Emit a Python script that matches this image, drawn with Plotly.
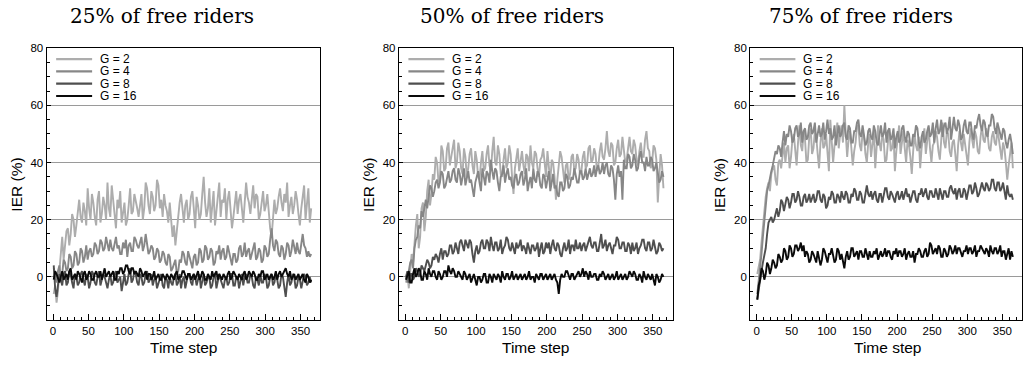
import plotly.graph_objects as go

# ---------------- data (IER %, sampled every 2 time steps, starting at t=1) ----------------
T_START = 1
T_STEP = 2
group_labels = ["G = 2", "G = 4", "G = 8", "G = 16"]
panel_titles = ["25% of free riders", "50% of free riders", "75% of free riders"]

fr25_g2 = [-6, -3, -9, -5, 2, 9, 14, 6, 12, 16, 17, 11, 15, 22, 20, 14, 18, 24, 27, 21,
           19, 26, 23, 18, 31, 24, 20, 29, 26, 21, 18, 27, 30, 19, 22, 28, 25, 20, 33, 24,
           21, 32, 28, 22, 17, 27, 24, 30, 19, 23, 26, 18, 20, 25, 31, 22, 23, 29, 27, 24,
           21, 26, 29, 20, 24, 33, 31, 25, 22, 30, 28, 23, 25, 34, 32, 24, 27, 21, 29, 25,
           23, 19, 26, 20, 14, 18, 11, 16, 22, 26, 29, 23, 19, 25, 27, 20, 22, 28, 30, 24,
           17, 28, 25, 20, 22, 29, 35, 26, 21, 24, 31, 19, 24, 30, 18, 23, 28, 33, 21, 27,
           26, 31, 20, 27, 30, 23, 17, 21, 25, 30, 22, 27, 29, 24, 19, 26, 33, 28, 26, 22,
           27, 32, 24, 29, 28, 20, 22, 27, 30, 23, 25, 29, 21, 17, 14, 20, 27, 22, 24, 28,
           31, 26, 23, 29, 26, 33, 21, 25, 28, 22, 25, 30, 27, 22, 18, 24, 29, 32, 20, 26,
           31, 19, 24]
fr25_g4 = [3, 0, -2, 2, 4, -1, 1, 6, 5, 2, 3, 8, 7, 3, 4, 9, 8, 4, 5, 10,
           9, 5, 7, 11, 6, 9, 10, 7, 8, 12, 11, 8, 9, 13, 12, 9, 10, 14, 11, 9,
           13, 10, 9, 12, 14, 10, 11, 8, 8, 12, 10, 13, 7, 11, 12, 9, 9, 14, 13, 11,
           10, 12, 14, 9, 11, 15, 12, 8, 9, 11, 10, 6, 7, 10, 9, 5, 6, 9, 8, 5,
           4, 8, 7, 2, 3, 5, 6, 1, 2, 6, 5, 9, 8, 5, 4, 9, 7, 4, 3, 7,
           8, 4, 5, 10, 9, 5, 6, 11, 10, 6, 7, 10, 9, 4, 5, 9, 8, 11, 6, 9,
           10, 6, 7, 11, 9, 6, 4, 8, 8, 5, 6, 10, 11, 7, 8, 12, 7, 9, 10, 6,
           8, 11, 12, 6, 7, 10, 9, 5, 6, 11, 10, 7, 8, 13, 17, 11, 9, 13, 12, 8,
           7, 11, 10, 6, 8, 12, 11, 7, 9, 13, 10, 8, 12, 9, 8, 12, 15, 11, 10, 7,
           9, 7, 8]
fr25_g8 = [4, -4, -7, -2, 1, -1, -3, 1, 2, -3, -2, 2, 1, -2, -4, 1, 0, -3, -2, 1,
           2, -1, -3, 1, 0, -4, -2, 2, 1, -2, -3, 0, 2, -3, -1, 1, 0, -2, -4, -1,
           1, -3, -2, 1, 2, -2, -1, 0, -5, -1, 1, -3, -2, 1, 3, -2, -1, 2, 1, -2,
           -3, 1, 0, -3, -2, 1, 2, -2, -1, 1, -3, -1, 0, -4, -2, 0, 1, -3, -4, 0,
           -1, -4, 0, -2, -3, 0, 1, -3, -2, 1, -4, -1, 0, -4, -2, 1, 1, -2, -3, 1,
           0, -3, -1, 1, -4, -1, 1, -3, -2, 0, 0, -4, -3, 0, 1, -4, -2, 1, -1, -3,
           -4, -1, 0, -3, -2, 1, 1, -3, -3, 0, 0, -4, -1, 1, -3, 0, 1, -2, -2, 1,
           0, -3, -4, 0, -1, -3, 1, -2, -2, 1, 0, -4, -3, 0, 1, -3, -2, 1, -1, -4,
           -3, 1, 0, -3, -7, -2, 1, -3, -2, 1, 0, -4, -3, 0, -1, -4, -2, 1, 0, -3,
           -2, 0, -2]
fr25_g16 = [-1, 2, 1, -1, -2, 0, 2, -1, 0, 1, -1, 2, 3, -1, 0, 1, -1, 2, 1, -1,
            -2, 1, 2, -1, 0, 2, 1, -1, -1, 1, 2, 0, 0, 2, -1, 1, 3, 0, 1, 2,
            0, 1, 2, -1, -1, 2, 1, 3, 3, 1, 2, 4, 4, 2, 1, 3, 3, 1, 2, 1,
            0, 3, 2, 0, 1, 2, -1, 1, 1, -1, 0, 2, -1, 0, 1, -1, -1, 1, 0, -1,
            1, 0, -1, 1, 0, -1, 1, 2, -1, 0, 0, 2, 2, 0, -1, 1, 1, -1, 0, 1,
            -1, 1, 2, -1, 0, 2, 1, -1, -1, 1, 0, -1, 2, 0, 1, 2, -1, 1, 0, -1,
            1, 0, -1, 1, 2, -1, 0, 2, 1, 0, -1, 1, 0, -1, 1, 2, -1, 0, 2, 1,
            0, 2, 1, -1, -1, 1, 0, 2, 2, -1, 0, 1, -1, 0, 1, -1, 0, 2, -1, 1,
            2, 0, 1, 2, 3, 1, 0, 2, -1, 0, 1, -1, 0, 1, -1, 0, 1, -1, -2, 1,
            0, -2, -1]

fr50_g2 = [-2, 1, -4, 4, 8, 5, 12, 18, 22, 10, 14, 24, 26, 16, 21, 30, 34, 25, 29, 36,
           34, 42, 40, 33, 35, 46, 44, 37, 38, 45, 47, 39, 42, 46, 48, 38, 40, 47, 44, 38,
           36, 45, 42, 35, 38, 43, 45, 39, 36, 44, 41, 35, 34, 40, 44, 37, 38, 43, 46, 39,
           37, 44, 49, 40, 39, 46, 43, 36, 35, 41, 45, 38, 40, 46, 43, 35, 29, 38, 41, 45,
           37, 41, 44, 39, 36, 43, 42, 37, 46, 40, 38, 44, 43, 38, 35, 41, 42, 45, 39, 35,
           44, 38, 33, 41, 40, 35, 27, 34, 38, 44, 42, 36, 33, 39, 40, 34, 36, 42, 43, 37,
           38, 43, 41, 36, 37, 42, 44, 38, 39, 45, 46, 40, 41, 45, 43, 37, 39, 44, 47, 42,
           41, 45, 51, 44, 42, 47, 46, 39, 40, 45, 48, 42, 43, 49, 45, 40, 41, 46, 49, 44,
           43, 48, 46, 41, 39, 44, 47, 42, 42, 48, 51, 45, 44, 38, 40, 46, 45, 41, 26, 35,
           43, 39, 31]
fr50_g4 = [0, -2, 2, 5, 6, 3, 10, 13, 14, 18, 17, 23, 21, 25, 27, 24, 29, 32, 31, 28,
           30, 33, 34, 31, 33, 37, 36, 31, 32, 35, 37, 33, 34, 37, 38, 34, 33, 38, 36, 32,
           35, 38, 32, 35, 37, 33, 34, 31, 28, 33, 35, 37, 33, 30, 38, 34, 32, 37, 36, 33,
           41, 37, 34, 38, 37, 33, 30, 35, 36, 39, 33, 36, 38, 34, 35, 32, 31, 35, 36, 32,
           33, 36, 37, 32, 34, 38, 30, 33, 35, 31, 38, 34, 33, 37, 36, 32, 31, 36, 35, 31,
           34, 37, 30, 33, 36, 31, 32, 29, 28, 33, 33, 30, 31, 36, 35, 31, 32, 35, 34, 38,
           36, 33, 33, 37, 37, 34, 35, 38, 34, 36, 38, 35, 36, 39, 35, 38, 39, 36, 37, 40,
           36, 39, 40, 36, 35, 39, 38, 34, 27, 36, 39, 35, 37, 27, 41, 38, 38, 43, 42, 38,
           39, 43, 41, 37, 38, 42, 44, 40, 40, 37, 42, 39, 39, 42, 41, 37, 38, 40, 36, 33,
           34, 37, 35]
fr50_g8 = [0, 2, -2, 1, 1, -1, 0, 3, 2, 0, 1, 4, 3, 2, 4, 6, 5, 3, 4, 7,
           6, 8, 7, 5, 8, 10, 6, 9, 9, 7, 8, 11, 11, 8, 9, 12, 10, 8, 12, 13,
           11, 9, 13, 11, 10, 13, 12, 8, 5, 9, 11, 8, 9, 12, 13, 10, 10, 13, 12, 9,
           14, 11, 9, 12, 12, 9, 10, 13, 8, 10, 11, 14, 13, 10, 9, 12, 10, 8, 12, 10,
           11, 13, 9, 11, 10, 8, 12, 10, 8, 11, 11, 9, 10, 12, 7, 10, 12, 8, 9, 12,
           10, 12, 8, 11, 13, 10, 9, 12, 11, 8, 7, 10, 12, 9, 10, 13, 8, 11, 11, 9,
           13, 10, 10, 12, 9, 11, 12, 9, 11, 13, 14, 11, 10, 12, 12, 9, 9, 12, 15, 10,
           11, 13, 9, 11, 12, 10, 8, 11, 11, 14, 13, 10, 10, 12, 12, 9, 9, 12, 11, 8,
           12, 9, 10, 12, 8, 10, 11, 13, 13, 10, 9, 12, 12, 9, 10, 13, 11, 8, 9, 12,
           11, 9, 10]
fr50_g16 = [-1, 1, 2, -2, -2, 1, 3, 0, 1, 3, 2, -1, -1, 2, 1, -1, 3, 1, 0, 2,
            2, 0, -1, 2, 1, -1, 0, 2, 2, 0, 4, 2, 1, 3, 2, 0, 0, 2, 1, 0,
            -1, 2, 1, -1, 0, 1, -2, 0, 1, -1, -3, 0, 0, -2, -1, 1, 1, -2, -2, 1,
            0, -2, 1, 0, -1, 1, 0, -2, 2, 0, -1, 1, 1, -1, 0, 2, -1, 0, 1, -1,
            0, 1, -1, 0, 1, -1, 0, 2, -1, 0, 0, -2, 1, 0, -1, 1, 1, -1, 0, 1,
            -1, 0, 1, -1, 0, 1, -1, -2, -6, -1, 1, 0, 0, 2, 2, 0, -1, 1, 1, -1,
            0, 1, 2, 0, 1, 3, 0, 2, 1, -1, 2, 0, 0, 1, 1, -1, -1, 1, 0, 2,
            1, -1, 0, 1, -1, 0, 1, -1, 0, 2, -1, 0, 1, -1, 0, 1, -1, 0, 2, 1,
            0, 2, 1, -1, -1, 1, 0, -2, 2, 0, -1, 1, 0, -1, 1, -1, -3, 1, 0, -2,
            -1, 1, 0]

fr75_g2 = [1, 3, 6, 12, 18, 24, 28, 31, 33, 30, 36, 38, 39, 34, 32, 40, 41, 38, 44, 47,
           40, 45, 46, 38, 42, 48, 50, 44, 39, 47, 53, 46, 44, 51, 48, 40, 41, 49, 52, 43,
           45, 51, 49, 43, 38, 47, 52, 45, 46, 50, 43, 37, 55, 48, 40, 46, 49, 54, 45, 50,
           53, 47, 60, 50, 42, 48, 51, 45, 39, 44, 47, 53, 53, 46, 44, 51, 49, 43, 40, 47,
           50, 42, 46, 51, 38, 45, 53, 47, 44, 50, 48, 40, 41, 47, 52, 44, 45, 50, 37, 44,
           49, 53, 43, 47, 51, 45, 40, 48, 46, 42, 36, 44, 50, 46, 44, 49, 38, 45, 48, 52,
           43, 47, 52, 45, 40, 46, 47, 51, 49, 44, 41, 48, 54, 47, 45, 51, 50, 44, 42, 47,
           48, 43, 37, 46, 51, 47, 44, 50, 46, 41, 39, 47, 52, 48, 45, 51, 49, 44, 43, 49,
           53, 48, 47, 52, 50, 45, 44, 49, 51, 47, 46, 52, 48, 43, 41, 47, 45, 40, 34, 39,
           44, 47, 38]
fr75_g4 = [-6, -2, 2, 8, 14, 20, 26, 30, 32, 35, 37, 39, 41, 44, 43, 46, 45, 42, 47, 51,
           46, 50, 49, 53, 51, 47, 48, 52, 53, 49, 50, 54, 47, 51, 52, 48, 49, 53, 54, 50,
           51, 54, 47, 50, 53, 49, 50, 54, 48, 51, 55, 50, 52, 48, 49, 53, 46, 50, 53, 49,
           50, 53, 54, 49, 48, 53, 52, 47, 47, 51, 51, 54, 55, 50, 49, 53, 50, 46, 47, 51,
           52, 49, 48, 53, 51, 47, 46, 50, 53, 49, 50, 54, 47, 51, 52, 48, 49, 52, 45, 49,
           51, 47, 48, 52, 53, 49, 47, 51, 50, 46, 46, 50, 49, 53, 52, 47, 45, 49, 51, 47,
           48, 51, 53, 49, 50, 54, 47, 52, 55, 50, 51, 55, 49, 53, 54, 50, 52, 56, 48, 52,
           56, 52, 51, 55, 53, 48, 49, 53, 55, 51, 50, 54, 54, 50, 48, 53, 52, 55, 57, 53,
           51, 55, 54, 50, 49, 53, 53, 57, 56, 52, 50, 54, 52, 49, 48, 52, 51, 47, 45, 48,
           50, 47, 43]
fr75_g8 = [-8, -4, -2, 2, 5, 8, 10, 15, 19, 20, 21, 19, 20, 22, 24, 21, 23, 27, 26, 23,
           25, 28, 27, 24, 26, 29, 29, 26, 27, 30, 28, 25, 25, 28, 29, 26, 27, 29, 26, 28,
           29, 26, 27, 30, 30, 27, 26, 29, 28, 24, 25, 28, 27, 30, 29, 26, 26, 29, 28, 26,
           30, 28, 27, 30, 29, 26, 26, 29, 28, 31, 30, 27, 27, 30, 29, 26, 26, 29, 32, 29,
           28, 30, 27, 29, 30, 27, 26, 29, 29, 26, 28, 31, 31, 28, 27, 30, 29, 27, 26, 29,
           30, 27, 28, 30, 27, 29, 31, 28, 29, 26, 28, 30, 30, 27, 26, 29, 29, 31, 28, 30,
           31, 28, 27, 30, 30, 28, 28, 31, 29, 27, 31, 29, 27, 30, 30, 28, 28, 31, 32, 30,
           29, 31, 27, 30, 31, 28, 28, 31, 30, 27, 29, 32, 32, 29, 30, 33, 31, 28, 29, 31,
           33, 31, 30, 33, 32, 30, 31, 34, 34, 31, 30, 33, 33, 30, 31, 33, 29, 27, 32, 29,
           28, 29, 27]
fr75_g16 = [-8, -3, -1, 3, 2, -1, 1, 5, 4, 1, 3, 6, 5, 3, 4, 8, 7, 5, 6, 10,
            9, 6, 7, 11, 10, 7, 8, 11, 11, 9, 10, 12, 9, 11, 7, 9, 8, 5, 6, 9,
            8, 6, 5, 9, 7, 4, 6, 10, 9, 7, 5, 8, 8, 10, 7, 5, 6, 10, 9, 6,
            8, 5, 3, 7, 9, 6, 7, 10, 10, 7, 8, 9, 6, 9, 9, 7, 7, 10, 8, 6,
            9, 7, 7, 9, 8, 10, 6, 8, 9, 7, 8, 10, 7, 9, 9, 7, 6, 9, 8, 10,
            7, 9, 9, 7, 8, 10, 6, 8, 9, 7, 7, 9, 5, 8, 8, 10, 9, 7, 7, 9,
            10, 7, 8, 12, 11, 8, 9, 10, 8, 11, 10, 7, 7, 10, 9, 7, 8, 11, 10, 8,
            9, 11, 8, 10, 10, 8, 7, 9, 9, 11, 8, 10, 10, 8, 9, 11, 7, 9, 9, 11,
            10, 9, 8, 10, 9, 7, 11, 9, 8, 10, 10, 8, 9, 11, 7, 9, 9, 6, 8, 10,
            6, 9, 7]

x_tick_vals = [0, 50, 100, 150, 200, 250, 300, 350]
y_tick_vals = [0, 20, 40, 60, 80]

panels = [
    [fr25_g2, fr25_g4, fr25_g8, fr25_g16],
    [fr50_g2, fr50_g4, fr50_g8, fr50_g16],
    [fr75_g2, fr75_g4, fr75_g8, fr75_g16],
]

# ---------------- style ----------------
# the page's body margin is removed (post_script), so figure px ~ screen px
OFF_X = 0
OFF_Y = 3
W, H = 1023, 362
line_colors = ["#adadad", "#878787", "#4f4f4f", "#0a0a0a"]
plot_left_px = [46.7 - OFF_X, 399.3 - OFF_X, 751.0 - OFF_X]
plot_w_px = 274.0
plot_top_px, plot_bot_px = 46.0 - OFF_Y, 322.0 - OFF_Y
title_x_px = [162 - OFF_X, 513 - OFF_X, 862 - OFF_X]
SANS = "Liberation Sans, Arial, sans-serif"
SERIF = "DejaVu Serif, serif"

fig = go.Figure()

for p, series in enumerate(panels):
    ax = "" if p == 0 else str(p + 1)
    for g, vals in enumerate(series):
        xs = list(range(T_START, T_START + T_STEP * len(vals), T_STEP))
        fig.add_trace(go.Scatter(
            x=xs, y=vals, mode="lines",
            line=dict(color=line_colors[g], width=1.9),
            xaxis="x" + ax, yaxis="y" + ax, showlegend=False,
            hoverinfo="skip",
        ))

    x0 = max(plot_left_px[p] / W, 0.0)
    x1 = min((plot_left_px[p] + plot_w_px) / W, 1.0)
    y0 = 1 - plot_bot_px / H
    y1 = 1 - plot_top_px / H
    fig.update_layout(**{
        "xaxis" + ax: dict(
            domain=[x0, x1], anchor="y" + ax, range=[-9, 378],
            tickvals=x_tick_vals, ticks="inside", ticklen=6, tickwidth=1,
            tickcolor="black",
            minor=dict(dtick=10, tick0=0, ticks="inside", ticklen=3,
                       tickcolor="black", showgrid=False),
            showline=True, mirror=True, linecolor="black", linewidth=1.3,
            showgrid=False, zeroline=False,
            tickfont=dict(family=SANS, size=11.5, color="black"),
        ),
        "yaxis" + ax: dict(
            domain=[y0, y1], anchor="x" + ax, range=[-15, 80],
            tickvals=y_tick_vals, ticks="inside", ticklen=4, tickwidth=1,
            tickcolor="black",
            minor=dict(dtick=5, tick0=0, ticks="inside", ticklen=3,
                       tickcolor="black", showgrid=False),
            showline=True, mirror=True, linecolor="black", linewidth=1.3,
            showgrid=True, gridcolor="#9a9a9a", gridwidth=1.2,
            zeroline=False,
            tickfont=dict(family=SANS, size=11.5, color="black"),
        ),
    })

    # panel title
    fig.add_annotation(text=panel_titles[p], xref="paper", yref="paper",
                       x=title_x_px[p] / W, y=1 - (13 - OFF_Y) / H, showarrow=False,
                       xanchor="center", yanchor="middle",
                       font=dict(family=SERIF, size=20, color="black"))
    # y-axis title
    fig.add_annotation(text="IER (%)", xref="paper", yref="paper",
                       x=(plot_left_px[p] - 30) / W, y=1 - (185 - OFF_Y) / H,
                       showarrow=False, textangle=-90,
                       xanchor="center", yanchor="middle",
                       font=dict(family=SANS, size=15.5, color="black"))
    # x-axis title
    fig.add_annotation(text="Time step", xref="paper", yref="paper",
                       x=(plot_left_px[p] + plot_w_px / 2) / W, y=1 - (350 - OFF_Y) / H,
                       showarrow=False, xanchor="center", yanchor="middle",
                       font=dict(family=SANS, size=15.5, color="black"))

    # legend (drawn manually, compact rows)
    row_px = [57, 69.5, 82, 94.5]
    for g, lab in enumerate(group_labels):
        yy = (322.0 - row_px[g]) / (322.0 - 46.0)
        fig.add_shape(type="line", xref="x" + ax + " domain", yref="y" + ax + " domain",
                      x0=9.5 / plot_w_px, x1=45.5 / plot_w_px, y0=yy, y1=yy,
                      line=dict(color=line_colors[g], width=2.2))
        fig.add_annotation(text=lab, xref="x" + ax + " domain", yref="y" + ax + " domain",
                           x=51 / plot_w_px, y=yy, showarrow=False,
                           xanchor="left", yanchor="middle",
                           font=dict(family=SANS, size=12, color="black"))

fig.update_layout(
    width=W, height=H,
    margin=dict(l=0, r=0, t=0, b=0),
    paper_bgcolor="white", plot_bgcolor="white",
    showlegend=False,
)

fig.write_html("out.html", config={"displayModeBar": False},
               post_script="document.body.style.margin='0px';")
